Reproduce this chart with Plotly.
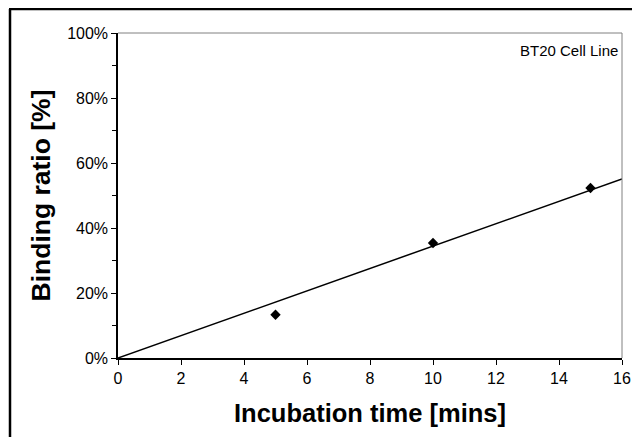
import plotly.graph_objects as go

# Data
time_min = [5, 10, 15]
binding_pct = [13.3, 35.4, 52.3]
fit_x = [0, 16]
fit_y = [0, 55.1]
x_ticks = [0, 2, 4, 6, 8, 10, 12, 14, 16]
y_ticks = [0, 20, 40, 60, 80, 100]
y_tick_labels = ["0%", "20%", "40%", "60%", "80%", "100%"]

FONT = "Liberation Sans, Arial, sans-serif"

fig = go.Figure()
fig.add_trace(go.Scatter(x=fit_x, y=fit_y, mode="lines",
                         line=dict(color="black", width=1.5), showlegend=False))
fig.add_trace(go.Scatter(x=time_min, y=binding_pct, mode="markers",
                         marker=dict(symbol="diamond", color="black", size=8),
                         showlegend=False))

# page body has an 8px margin, so the figure is sized to fit inside the window
W, H = 624, 429
L, T, R = 110, 25, 10
pw = W - L - R          # 504
ph = 325
B = H - T - ph          # 79

def px_x(p):
    return (p - L) / pw

def px_y(p):
    return (H - B - p) / ph

fig.update_layout(
    width=W, height=H,
    margin=dict(l=L, r=R, t=T, b=B, autoexpand=False),
    paper_bgcolor="white", plot_bgcolor="white",
    font=dict(family=FONT, color="black", size=16),
    xaxis=dict(range=[0, 16], tickvals=x_ticks, ticks="outside", ticklen=5,
               tickcolor="black", showline=True, linecolor="black", linewidth=1.5,
               showgrid=False, zeroline=False, mirror=False, automargin=False,
               tickfont=dict(size=16),
               title=dict(text="<b>Incubation time [mins]</b>", font=dict(size=25.5), standoff=18)),
    yaxis=dict(range=[0, 100], tickvals=y_ticks, ticktext=y_tick_labels, ticks="outside",
               ticklen=5, tickcolor="black", showline=True, linecolor="black", linewidth=1.5,
               showgrid=False, zeroline=False, automargin=False,
               tickfont=dict(size=16),
               minor=dict(dtick=10, ticks="outside", ticklen=4, tickcolor="black"),
               title=dict(text="<b>Binding ratio [%]</b>", font=dict(size=26.5), standoff=9)),
    shapes=[
        # top and right plot border (gray)
        dict(type="line", xref="paper", yref="paper", x0=0, x1=1, y0=1, y1=1,
             line=dict(color="#808080", width=1)),
        dict(type="line", xref="paper", yref="paper", x0=1, x1=1, y0=0, y1=1,
             line=dict(color="#808080", width=1)),
        # outer frame (left and top edges; right/bottom fall outside the view)
        dict(type="line", xref="paper", yref="paper",
             x0=px_x(2), x1=px_x(2), y0=px_y(1), y1=px_y(H + 20),
             line=dict(color="black", width=2.5), layer="below"),
        dict(type="line", xref="paper", yref="paper",
             x0=px_x(1), x1=px_x(W + 20), y0=px_y(1), y1=px_y(1),
             line=dict(color="black", width=2.5), layer="below"),
    ],
    annotations=[
        dict(text="BT20 Cell Line", xref="paper", yref="paper", x=1.0, y=0.98,
             xanchor="right", yanchor="top", showarrow=False, xshift=-2,
             font=dict(size=15, family=FONT)),
    ],
)

fig.write_html("out.html")
